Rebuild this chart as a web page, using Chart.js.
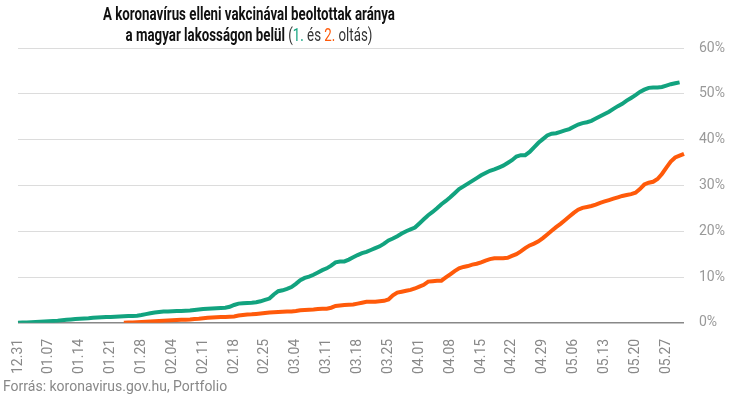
<!DOCTYPE html>
<html>
<head>
<meta charset="utf-8">
<script src="https://cdn.jsdelivr.net/npm/chart.js@4"></script>
<style>
  body { margin: 0; background: #fff; }
  #wrap { position: relative; width: 736px; height: 397px; overflow: hidden; font-family: Roboto, sans-serif; }
  #myChart { position: absolute; left: 0; top: 0; }
  #title { position: absolute; left: 249px; top: 3px; white-space: nowrap; text-align: center;
           font-size: 19px; line-height: 21px; color: #111; transform-origin: 50% 0; }
  #title b { font-weight: 700; }
  #title .n { font-weight: 400; color: #333; }
  #source { position: absolute; left: 3px; top: 378px; font-size: 14px; color: #888; white-space: nowrap; }
</style>
</head>
<body>
<div id="wrap">
  <canvas id="myChart" width="736" height="397"></canvas>
  <div id="title"><b>A koronavírus elleni vakcinával beoltottak aránya</b><br><b>a magyar lakosságon belül</b> <span class="n">(<span style="color:#12a37f">1.</span> és <span style="color:#ff5a0a">2.</span> oltás)</span></div>
  <div id="source">Forrás: koronavirus.gov.hu, Portfolio</div>
</div>
<script>
// napok 12.31 - 05.31
const firstDay = new Date(2020, 11, 31);
const days = [];
for (let i = 0; i < 152; i++) {
    const d = new Date(firstDay.getTime() + i * 86400000);
    days.push(String(d.getMonth() + 1).padStart(2, '0') + '.' + String(d.getDate()).padStart(2, '0'));
}

const tickLabels = ['12.31', '01.07', '01.14', '01.21', '01.28', '02.04', '02.11', '02.18', '02.25',
    '03.04', '03.11', '03.18', '03.25', '04.01', '04.08', '04.15', '04.22', '04.29', '05.06', '05.13', '05.20', '05.27'];

// 1. oltás (%)
const elsoOltas = [
    0, 0.05, 0.1, 0.15, 0.2, 0.25, 0.3, 0.35, 0.4, 0.45,
    0.55, 0.65, 0.75, 0.85, 0.9, 0.95, 1.0, 1.1, 1.15, 1.2,
    1.25, 1.3, 1.35, 1.4, 1.45, 1.5, 1.5, 1.55, 1.7, 1.9,
    2.1, 2.25, 2.35, 2.45, 2.5, 2.55, 2.6, 2.6, 2.65, 2.7,
    2.8, 2.9, 3.0, 3.1, 3.15, 3.2, 3.25, 3.3, 3.5, 3.9,
    4.2, 4.3, 4.35, 4.4, 4.5, 4.7, 5.0, 5.3, 6.2, 6.9,
    7.1, 7.4, 7.8, 8.5, 9.3, 9.8, 10.1, 10.5, 11.0, 11.5,
    11.9, 12.5, 13.2, 13.4, 13.4, 13.8, 14.3, 14.8, 15.2, 15.5,
    15.9, 16.3, 16.7, 17.3, 18.0, 18.4, 18.9, 19.5, 20.0, 20.4,
    20.8, 21.7, 22.6, 23.5, 24.2, 25.0, 25.9, 26.6, 27.4, 28.3,
    29.2, 29.8, 30.4, 31.0, 31.6, 32.2, 32.7, 33.2, 33.5, 33.9,
    34.3, 34.9, 35.5, 36.3, 36.6, 36.6, 37.3, 38.3, 39.3, 40.1,
    40.9, 41.3, 41.4, 41.7, 42.0, 42.3, 42.8, 43.3, 43.6, 43.8,
    44.1, 44.6, 45.1, 45.6, 46.1, 46.7, 47.3, 47.8, 48.5, 49.1,
    49.7, 50.4, 50.9, 51.3, 51.4, 51.4, 51.5, 51.8, 52.1, 52.3,
    52.5, null
];

// 2. oltás (%)
const masodikOltas = [
    null, null, null, null, null, null, null, null, null, null,
    null, null, null, null, null, null, null, null, null, null,
    null, null, null, null, 0, 0.05, 0.1, 0.15, 0.2, 0.25,
    0.3, 0.35, 0.4, 0.45, 0.5, 0.55, 0.6, 0.65, 0.7, 0.75,
    0.85, 0.9, 1.0, 1.1, 1.15, 1.2, 1.25, 1.3, 1.35, 1.4,
    1.6, 1.7, 1.8, 1.85, 1.95, 2.05, 2.15, 2.25, 2.3, 2.35,
    2.4, 2.45, 2.5, 2.6, 2.75, 2.8, 2.85, 2.9, 3.0, 3.1,
    3.1, 3.3, 3.7, 3.8, 3.9, 3.95, 4.0, 4.2, 4.4, 4.6,
    4.6, 4.6, 4.7, 4.8, 5.1, 6.0, 6.6, 6.8, 7.0, 7.2,
    7.5, 7.9, 8.3, 9.0, 9.1, 9.2, 9.2, 9.9, 10.6, 11.3,
    11.9, 12.2, 12.4, 12.7, 12.9, 13.2, 13.6, 13.9, 14.1, 14.1,
    14.1, 14.2, 14.6, 15.0, 15.6, 16.3, 16.9, 17.3, 17.8, 18.5,
    19.3, 20.1, 20.9, 21.6, 22.4, 23.2, 24.0, 24.7, 25.1, 25.3,
    25.5, 25.8, 26.2, 26.5, 26.8, 27.1, 27.4, 27.7, 27.9, 28.1,
    28.4, 29.2, 30.2, 30.6, 30.8, 31.4, 32.5, 33.9, 35.2, 36.1,
    36.5, 36.9
];

const yTicks = [0, 10, 20, 30, 40, 50, 60];

// cím szélessége a mintához igazítva (keskeny betű)
const title = document.getElementById('title');
const firstLine = title.querySelector('b');
const s = 292 / firstLine.getBoundingClientRect().width;
title.style.transform = 'translateX(-50%) scaleX(' + s.toFixed(3) + ')';

const ctx = document.getElementById('myChart').getContext('2d');
const chart = new Chart(ctx, {
    type: 'line',
    data: {
        labels: days,
        datasets: [{
            label: '1. oltás',
            data: elsoOltas,
            borderColor: '#12a37f',
            borderWidth: 4,
            pointRadius: 0,
            tension: 0
        }, {
            label: '2. oltás',
            data: masodikOltas,
            borderColor: '#ff5a0a',
            borderWidth: 4,
            pointRadius: 0,
            tension: 0
        }]
    },
    options: {
        responsive: false,
        animation: false,
        devicePixelRatio: 1,
        layout: { padding: { left: 18, top: 48, right: 0, bottom: 15 } },
        plugins: {
            legend: { display: false },
            tooltip: { enabled: false }
        },
        scales: {
            x: {
                grid: { display: false },
                border: { display: false },
                ticks: {
                    autoSkip: false,
                    minRotation: 90,
                    maxRotation: 90,
                    padding: 8,
                    color: '#888',
                    font: { family: 'Roboto', size: 14 },
                    callback: function (value, index) {
                        const l = days[index];
                        return tickLabels.includes(l) ? l : '';
                    }
                }
            },
            y: {
                position: 'right',
                min: 0,
                max: 60,
                afterBuildTicks: function (scale) { scale.ticks = yTicks.map(v => ({ value: v })); },
                grid: {
                    drawTicks: false,
                    color: c => (c.tick && c.tick.value === 0 ? '#888' : '#dcdcdc'),
                    lineWidth: c => (c.tick && c.tick.value === 0 ? 1.5 : 1)
                },
                border: { display: false },
                ticks: {
                    padding: 15,
                    color: '#999',
                    font: { family: 'Roboto', size: 14 },
                    callback: v => v + '%'
                },
                afterFit: function (scale) { scale.width = 52; }
            }
        }
    }
});
</script>
</body>
</html>
